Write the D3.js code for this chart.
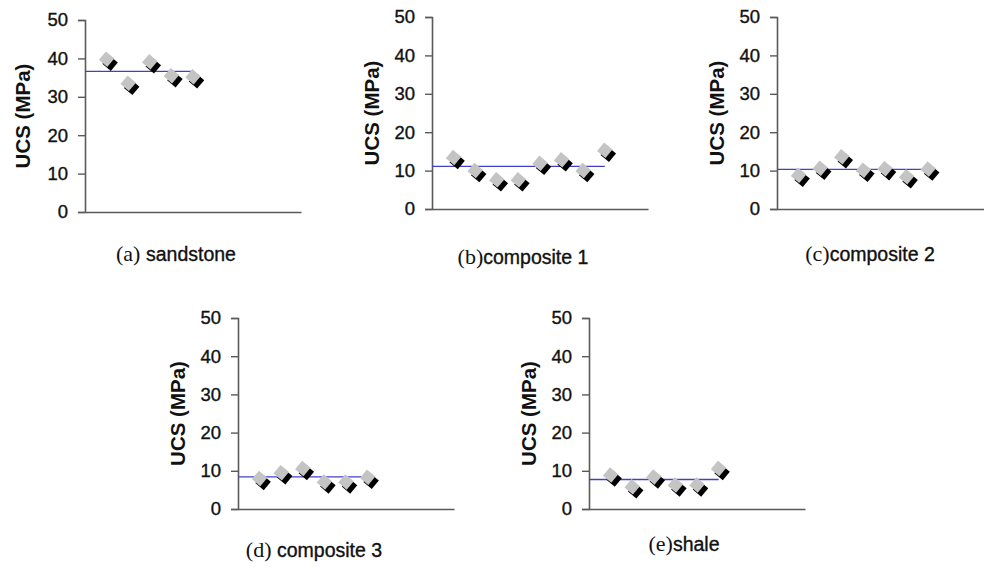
<!DOCTYPE html>
<html>
<head>
<meta charset="utf-8">
<script src="https://cdn.jsdelivr.net/npm/d3@7"></script>
<style>
  html, body { margin: 0; padding: 0; background: #fff; }
  svg { display: block; }
</style>
</head>
<body>
<svg id="chart" width="984" height="567"></svg>
<script>
// ---- data ----
const yTicks = [0, 10, 20, 30, 40, 50];
const yTitle = "UCS (MPa)";

const sandstone  = [39.8, 33.5, 39.1, 35.5, 35.2];
const composite1 = [13.4, 10.0, 7.6, 7.6, 11.9, 12.8, 10.0, 15.3];
const composite2 = [8.8, 10.6, 13.6, 10.1, 10.5, 8.4, 10.4];
const composite3 = [8.0, 9.5, 10.6, 7.1, 7.1, 8.3];
const shale      = [8.9, 5.8, 8.4, 6.3, 6.3, 10.6];

const captionLetters = ["(a) ", "(b)", "(c)", "(d) ", "(e)"];
const captionNames   = ["sandstone", "composite 1", "composite 2", "composite 3", "shale"];

// ---- layout ----
const panels = [
  { data: sandstone,  x0: 85,  top: 20,  bottom: 212, titleX: 22,  capX: 176, capY: 261 },
  { data: composite1, x0: 432, top: 17,  bottom: 209, titleX: 371, capX: 523, capY: 264 },
  { data: composite2, x0: 777, top: 17,  bottom: 209, titleX: 716, capX: 870, capY: 261 },
  { data: composite3, x0: 238, top: 318, bottom: 509, titleX: 177, capX: 314, capY: 557 },
  { data: shale,      x0: 589, top: 318, bottom: 509, titleX: 528, capX: 684, capY: 551 }
];
const axisWidth = 216;
const sans = "Arial, 'Liberation Sans', sans-serif";
const serif = "'Times New Roman', 'Liberation Serif', serif";

const svg = d3.select("#chart");

panels.forEach((p, i) => {
  const x = d3.scaleLinear().domain([0, 10]).range([p.x0, p.x0 + axisWidth]);
  const y = d3.scaleLinear().domain([0, 50]).range([p.bottom, p.top]);
  const g = svg.append("g");

  // y axis
  const yAxis = d3.axisLeft(y).tickValues(yTicks).tickSize(7).tickPadding(10);
  const ya = g.append("g").attr("transform", `translate(${p.x0},0)`).call(yAxis);
  ya.select(".domain").attr("stroke", "#5a5a5a").attr("stroke-width", 1.6);
  ya.selectAll(".tick line").attr("stroke", "#5a5a5a").attr("stroke-width", 1.4);
  ya.selectAll(".tick text")
    .attr("fill", "#111")
    .attr("stroke", "#111").attr("stroke-width", 0.35)
    .style("font-family", sans)
    .style("font-size", "18.5px");

  // x axis (no ticks)
  const xAxis = d3.axisBottom(x).tickValues([]).tickSizeOuter(0);
  const xa = g.append("g").attr("transform", `translate(0,${p.bottom})`).call(xAxis);
  xa.select(".domain").attr("stroke", "#5a5a5a").attr("stroke-width", 1.6);

  // axis title
  g.append("text")
    .attr("transform", `translate(${p.titleX},${(p.top + p.bottom) / 2}) rotate(-90)`)
    .attr("text-anchor", "middle")
    .attr("dominant-baseline", "central")
    .style("font-family", sans)
    .style("font-weight", "bold")
    .style("font-size", "20.5px")
    .attr("fill", "#111")
    .text(yTitle);

  // mean line
  const mean = d3.mean(p.data);
  g.append("line")
    .attr("x1", x(0)).attr("x2", x(p.data.length))
    .attr("y1", y(mean)).attr("y2", y(mean))
    .attr("stroke", "#4040cc").attr("stroke-width", 1.3);

  // markers: black shadow then grey diamond
  const pts = g.selectAll(".pt").data(p.data).join("g")
    .attr("class", "pt")
    .attr("transform", (d, j) => `translate(${x(j + 1)},${y(d)})`);
  pts.append("rect")
    .attr("x", -5.5).attr("y", -5.5).attr("width", 11).attr("height", 11)
    .attr("transform", "translate(3.5,4) rotate(40)")
    .attr("fill", "#000");
  pts.append("rect")
    .attr("x", -5.5).attr("y", -5.5).attr("width", 11).attr("height", 11)
    .attr("transform", "rotate(40)")
    .attr("fill", "#c4c4c4");

  // caption
  const cap = svg.append("text")
    .attr("x", p.capX).attr("y", p.capY)
    .attr("text-anchor", "middle")
    .attr("fill", "#111");
  cap.append("tspan")
    .style("font-family", serif)
    .style("font-size", "22px")
    .text(captionLetters[i]);
  cap.append("tspan")
    .attr("stroke", "#111").attr("stroke-width", 0.35)
    .style("font-family", sans)
    .style("font-size", "19.5px")
    .text(captionNames[i]);
});
</script>
</body>
</html>
